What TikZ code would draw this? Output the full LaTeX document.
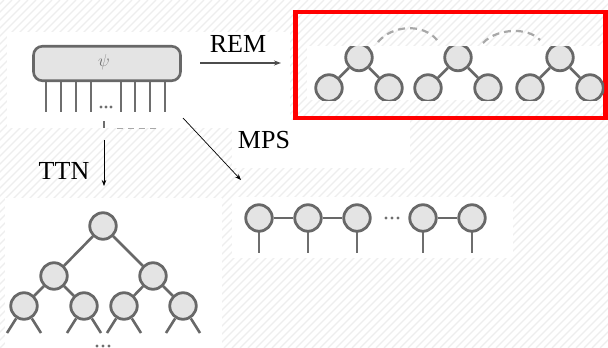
\documentclass[tikz,border=0pt]{standalone}
\usepackage{fontspec}
\setmainfont{Liberation Serif}
\usetikzlibrary{arrows.meta}
\definecolor{nodegray}{HTML}{686868}
\definecolor{nodefill}{HTML}{E4E4E4}
\definecolor{leggray}{HTML}{6E6E6E}
\definecolor{hatchgray}{HTML}{EEEEEE}
\definecolor{dashgray}{HTML}{A8A8A8}
\definecolor{boxred}{HTML}{FF0000}
\begin{document}
\begin{tikzpicture}[x=1pt,y=-1pt,
  site/.style={circle,draw=nodegray,fill=nodefill,line width=2.8pt,minimum size=26.5pt,inner sep=0pt},
  bond/.style={draw=nodegray,line width=2.6pt},
  leg/.style={draw=leggray,line width=2.6pt},
  hatch/.style={draw=hatchgray,line width=1.3pt},
  panel/.style={fill=white},
  flow/.style={-{Stealth[length=6pt,width=4.5pt]},line width=0.7pt},
  lbl/.style={font=\fontsize{26}{28}\selectfont,inner sep=0pt,anchor=base},
  dotmark/.style={fill=leggray},
  link/.style={draw=dashgray,line width=2.2pt,dash pattern=on 7pt off 5pt}
]
\useasboundingbox (0,0) rectangle (608,348);

% hatched background
\fill[white] (0,0) rectangle (608,348);
\begin{scope}
  \clip (0,0) rectangle (608,348);
  \foreach \i in {-360,-352,...,608} \draw[hatch] (\i,348) -- (\i+348,0);
\end{scope}

% white panels
\fill[panel] (7,32) rectangle (290,128);
\fill[panel] (232,120) rectangle (410,168);
\fill[panel] (5,198) rectangle (222,348);
\fill[panel] (232,197) rectangle (513,258);
\fill[panel] (307,46) rectangle (604,100);

% the state psi with its physical legs
\foreach \x in {46,61,76,91,121,135,150,165} \draw[leg] (\x,80) -- (\x,112);
\node[draw=nodegray,fill=nodefill,rounded corners=9pt,line width=2.6pt,
      minimum width=147pt,minimum height=34.5pt,inner sep=0pt] (psi) at (107,63.5) {};
\node[text=black!55,font=\fontsize{17}{17}\selectfont] (psil) at (104,62) {$\psi$};
\foreach \x in {101,106,111} \fill[dotmark] (\x,107) circle (1.7pt);
\draw[leg] (104,121) -- (104,128);
\draw[link,line width=1.5pt,dash pattern=on 6pt off 5pt] (117,128.5) -- (160,128.5);

% arrows and labels
\coordinate (remS) at (200,63);
\coordinate (remE) at (281,63);
\draw[-{Stealth[length=7pt,width=5pt]},line width=1.6pt,draw=black!70,fill=black!70] (remS) -- (remE);
\node[lbl] (rem) at (238,52) {REM};

\coordinate (ttnS) at (104,140);
\coordinate (ttnE) at (104,186);
\draw[flow] (ttnS) -- (ttnE);
\node[lbl] (ttn) at (64,179) {TTN};

\coordinate (mpsS) at (183,118);
\coordinate (mpsE) at (241,180);
\draw[flow] (mpsS) -- (mpsE);
\node[lbl] (mps) at (264,148) {MPS};

% REM: cluster of three small trees, linked by dashed arcs
\draw[boxred,line width=4.5pt] (295.5,12) rectangle (605.5,118);
\coordinate (a1s) at (378,42);
\coordinate (a1e) at (437,40);
\coordinate (a2s) at (483,43);
\coordinate (a2e) at (540,40);
\draw[link] (a1s) .. controls (392,25) and (423,23) .. (a1e);
\draw[link] (a2s) .. controls (497,28) and (528,27) .. (a2e);
\begin{scope}
  \clip (307,46) rectangle (604,100);
  \foreach \n/\cx in {1/359,2/458,3/560} {
    \node[site] (r\n) at (\cx,57.5) {};
    \node[site] (r\n a) at (\cx-30,88) {};
    \node[site] (r\n b) at (\cx+30,88) {};
    \draw[bond] (r\n) -- (r\n a);
    \draw[bond] (r\n) -- (r\n b);
  }
\end{scope}

% MPS chain
\foreach \n/\cx in {1/259,2/308,3/357,4/423,5/472} {
  \draw[leg] (\cx,220) -- (\cx,253);
  \node[site] (m\n) at (\cx,218) {};
}
\draw[bond] (m1) -- (m2);
\draw[bond] (m2) -- (m3);
\draw[bond] (m4) -- (m5);
\foreach \x in {386,392,398} \fill[dotmark] (\x,218) circle (1.6pt);

% TTN tree
\node[site] (t0) at (103,226) {};
\node[site] (t1) at (54,276) {};
\node[site] (t2) at (153,276) {};
\node[site] (t3) at (24,306) {};
\node[site] (t4) at (84,306) {};
\node[site] (t5) at (124,306) {};
\node[site] (t6) at (183,306) {};
\draw[bond] (t0) -- (t1);
\draw[bond] (t0) -- (t2);
\draw[bond] (t1) -- (t3);
\draw[bond] (t1) -- (t4);
\draw[bond] (t2) -- (t5);
\draw[bond] (t2) -- (t6);
\foreach \t in {t3,t4,t5,t6} {
  \draw[bond] (\t) -- ++(-17,27);
  \draw[bond] (\t) -- ++(17,27);
}
\foreach \x in {97,103,109} \fill[dotmark] (\x,346) circle (1.7pt);
\end{tikzpicture}
\end{document}
